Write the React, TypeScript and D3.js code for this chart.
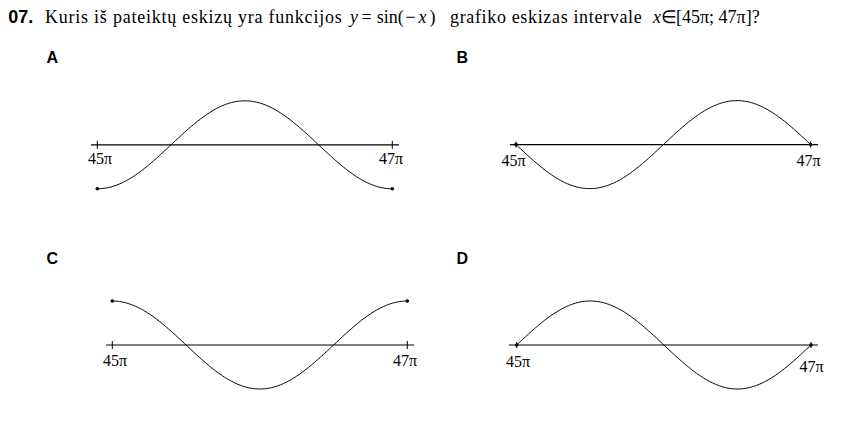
import React from "react";
import * as d3 from "d3";

const W = 848;
const H = 430;

// Panels: letter and the function each sketch shows
const panelLetters = ["A", "B", "C", "D"];
const panelFns: ((x: number) => number)[] = [
  (x) => Math.cos(x),
  (x) => Math.sin(x),
  (x) => -Math.cos(x),
  (x) => Math.sin(-x),
];
const domainStart = 45 * Math.PI;
const domainEnd = 47 * Math.PI;
const tickLabels = ["45π", "47π"];

// layout (positions only)
const layout = [
  { lx: 46.5, ly: 63, x0: 97.3, x1: 392.3, ay: 144.8, axL: 91, axR: 399, lab: [[100, 164], [391, 164]], tick: 4 },
  { lx: 456.5, ly: 63, x0: 516, x1: 810.7, ay: 144.6, axL: 510, axR: 818, lab: [[513.5, 166], [808.5, 166]], tick: 3 },
  { lx: 46.5, ly: 263.5, x0: 112.3, x1: 407.3, ay: 345, axL: 106, axR: 414, lab: [[115, 365.5], [405, 365.5]], tick: 4 },
  { lx: 456.5, ly: 263.5, x0: 516.7, x1: 811, ay: 345, axL: 509, axR: 818, lab: [[518, 366.5], [811.5, 372]], tick: 3 },
];
const AMP = 44;

const serif = "'Liberation Serif'";
const sans = "'Liberation Sans'";

function Panel({ i }: { i: number }) {
  const L = layout[i];
  const x = d3.scaleLinear().domain([domainStart, domainEnd]).range([L.x0, L.x1]);
  const y = d3.scaleLinear().domain([-1, 1]).range([L.ay + AMP, L.ay - AMP]);
  const f = panelFns[i];
  const pts = d3.range(0, 201).map((k) => domainStart + (k / 200) * (domainEnd - domainStart));
  const line = d3
    .line<number>()
    .x((d) => x(d))
    .y((d) => y(f(d)));
  const ends = [domainStart, domainEnd];
  return (
    <g>
      <text x={L.lx} y={L.ly} fontFamily={sans} fontWeight="bold" fontSize={16} fill="#000">
        {panelLetters[i]}
      </text>
      <line x1={L.axL} x2={L.axR} y1={L.ay} y2={L.ay} stroke="#000" strokeWidth={1.2} />
      {ends.map((e, k) => (
        <line key={"t" + k} x1={x(e)} x2={x(e)} y1={L.ay - L.tick} y2={L.ay + L.tick} stroke="#000" strokeWidth={1} />
      ))}
      <path d={line(pts) || ""} fill="none" stroke="#000" strokeWidth={1} />
      {ends.map((e, k) => (
        <circle key={"c" + k} cx={x(e)} cy={y(f(e))} r={1.8} fill="#000" />
      ))}
      {tickLabels.map((t, k) => (
        <text
          key={"l" + k}
          x={L.lab[k][0]}
          y={L.lab[k][1]}
          textAnchor="middle"
          fontFamily={serif}
          fontSize={16}
          fill="#000"
        >
          {t}
        </text>
      ))}
    </g>
  );
}

export default function App() {
  return (
    <svg
      width={W}
      height={H}
      viewBox={`0 0 ${W} ${H}`}
      style={{ position: "absolute", left: 0, top: 0, background: "#fff" }}
    >
      <rect x={0} y={0} width={W} height={H} fill="#fff" />
      <text x={8.3} y={22.7} fontFamily={sans} fontWeight="bold" fontSize={18} fill="#000">
        07.
      </text>
      <text x={45} y={22.7} fontFamily={serif} fontSize={18} fill="#000" textLength={296.7} lengthAdjust="spacing">
        Kuris iš pateiktų eskizų yra funkcijos
      </text>
      <text y={22.7} fontFamily={serif} fontSize={18} fill="#000">
        <tspan x={350} fontStyle="italic">y</tspan>
        <tspan x={361.5}>=</tspan>
        <tspan x={376.7}>sin(</tspan>
        <tspan x={405.5}>−</tspan>
        <tspan x={418.5} fontStyle="italic">x</tspan>
        <tspan x={429.5}>)</tspan>
      </text>
      <text x={450} y={22.7} fontFamily={serif} fontSize={18} fill="#000" textLength={191.7} lengthAdjust="spacing">
        grafiko eskizas intervale
      </text>
      <text y={22.7} fontFamily={serif} fontSize={18} fill="#000">
        <tspan x={653} fontStyle="italic">x</tspan>
        <tspan x={661}>∈</tspan>
        <tspan x={676}>[45π; 47π]?</tspan>
      </text>
      {panelLetters.map((_, i) => (
        <Panel key={i} i={i} />
      ))}
    </svg>
  );
}
